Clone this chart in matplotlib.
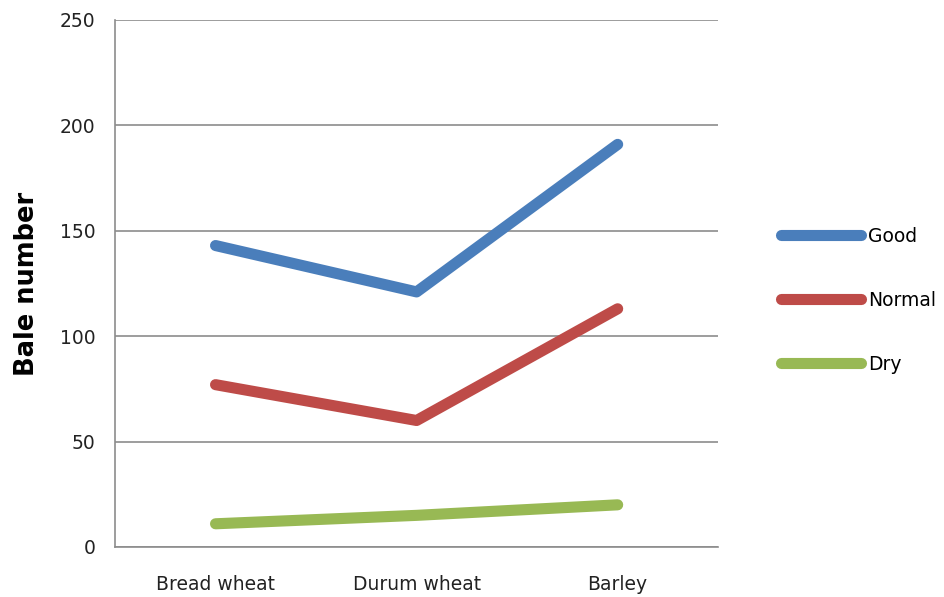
import matplotlib.pyplot as plt

# values
crops = ["Bread wheat", "Durum wheat", "Barley"]
good = [143, 121, 191]
normal = [77, 60, 113]
dry = [11, 15, 20]
y_ticks = [0, 50, 100, 150, 200, 250]

plt.rcParams['font.family'] = ['DejaVu Sans']

fig = plt.figure(figsize=(9.45, 5.97), dpi=100)
ax = fig.add_axes([0.1217, 0.0838, 0.6383, 0.8827])

x = list(range(len(crops)))
ax.plot(x, good, color="#4A7EBB", lw=8, solid_capstyle='round', solid_joinstyle='round', label="Good")
ax.plot(x, normal, color="#BE4B48", lw=8, solid_capstyle='round', solid_joinstyle='round', label="Normal")
ax.plot(x, dry, color="#98B954", lw=8, solid_capstyle='round', solid_joinstyle='round', label="Dry")

ax.set_xlim(-0.5, 2.5)
ax.set_ylim(0, 250)
ax.set_yticks(y_ticks)
ax.set_xticks(x)
ax.set_xticklabels(crops)
ax.tick_params(length=0, labelsize=13.5, colors="#222222")
ax.tick_params(axis='x', pad=20)
ax.tick_params(axis='y', pad=14)
ax.grid(axis='y', color="#8c8c8c", lw=1.2)
ax.set_axisbelow(True)
for s in ['top', 'right']:
    ax.spines[s].set_visible(False)
for s in ['left', 'bottom']:
    ax.spines[s].set_color("#8c8c8c")
    ax.spines[s].set_linewidth(1.2)
ax.set_ylabel("Bale number", fontsize=18.5, fontweight='bold', labelpad=14)

fig.legend(loc='center left', bbox_to_anchor=(0.826, 0.497), frameon=False,
           fontsize=13.5, handlelength=4.3, handletextpad=0.35, labelspacing=2.4,
           borderpad=0, borderaxespad=0)

plt.savefig("out.png", dpi=100)
